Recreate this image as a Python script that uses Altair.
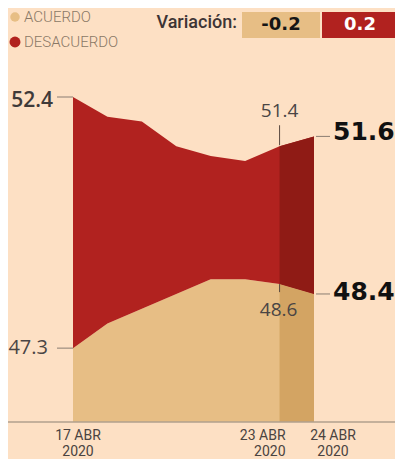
import altair as alt
import pandas as pd

# ---- data ----
days = [17, 18, 19, 20, 21, 22, 23, 24]
acuerdo = [47.3, 47.8, 48.1, 48.4, 48.7, 48.7, 48.6, 48.4]
desacuerdo = [52.4, 52.0, 51.9, 51.4, 51.2, 51.1, 51.4, 51.6]
tick_days = [17, 23, 24]
tick_labels = ["17 ABR\n2020", "23 ABR\n2020", "24 ABR\n2020"]
legend_labels = ["ACUERDO", "DESACUERDO"]
variation_title = "Variación:"
variation = [-0.2, 0.2]

BG = "#fde0c4"
TAN = "#e7be85"
RED = "#b1221f"
TAN_D = "#d3a463"
RED_D = "#8f1b15"
TICK = "#8a7d72"

W, H = 387, 451
BASE = 45.8

df = pd.DataFrame({"day": days, "acuerdo": acuerdo, "desacuerdo": desacuerdo})
ticks_df = pd.DataFrame({"day": tick_days, "label": tick_labels})
one = pd.DataFrame({"k": [0]})

xs = alt.Scale(domain=[17, 24], range=[65, 306])
ys = alt.Scale(domain=[BASE, 52.4], range=[414, 89])

X = alt.X("day:Q", scale=xs, axis=None)


def Y(f):
    return alt.Y(f, scale=ys, axis=None)


base = alt.Chart(df)

tan = base.mark_area(color=TAN).encode(x=X, y=Y("acuerdo:Q"), y2=alt.datum(BASE))
red = base.mark_area(color=RED).encode(x=X, y=Y("desacuerdo:Q"), y2="acuerdo:Q")
band = base.transform_filter("datum.day >= 23")
tan_d = band.mark_area(color=TAN_D).encode(x=X, y=Y("acuerdo:Q"), y2=alt.datum(BASE))
red_d = band.mark_area(color=RED_D).encode(x=X, y=Y("desacuerdo:Q"), y2="acuerdo:Q")

axis_line = alt.Chart(one).mark_rule(color="#b0a08e", strokeWidth=1.5).encode(
    x=alt.value(0), x2=alt.value(W), y=alt.value(414)
)

first = base.transform_filter("datum.day == 17")
mid = base.transform_filter("datum.day == 23")
last = base.transform_filter("datum.day == 24")

tick_l_a = first.mark_rule(color=TICK, x2Offset=-16).encode(x=X, x2="day:Q", y=Y("acuerdo:Q"))
tick_l_d = first.mark_rule(color=TICK, x2Offset=-16).encode(x=X, x2="day:Q", y=Y("desacuerdo:Q"))
tick_r_a = last.mark_rule(color=TICK, xOffset=2, x2Offset=16).encode(x=X, x2="day:Q", y=Y("acuerdo:Q"))
tick_r_d = last.mark_rule(color=TICK, xOffset=2, x2Offset=16).encode(x=X, x2="day:Q", y=Y("desacuerdo:Q"))
tick_m_d = mid.mark_rule(color="#5a4a40", yOffset=-1, y2Offset=-21).encode(x=X, y=Y("desacuerdo:Q"), y2="desacuerdo:Q")
tick_m_a = mid.mark_rule(color="#5a4a40", yOffset=0, y2Offset=8).encode(x=X, y=Y("acuerdo:Q"), y2="acuerdo:Q")

lbl_l_d = first.mark_text(align="right", baseline="middle", dx=-20, dy=4, fontSize=21,
                          font="Open Sans", fontWeight=600, color="#3f3a39").encode(
    x=X, y=Y("desacuerdo:Q"), text=alt.Text("desacuerdo:Q", format=".1f"))
lbl_l_a = first.mark_text(align="right", baseline="middle", dx=-25, dy=0, fontSize=20,
                          font="Open Sans", color="#4a4544").encode(
    x=X, y=Y("acuerdo:Q"), text=alt.Text("acuerdo:Q", format=".1f"))
lbl_m_d = mid.mark_text(align="center", baseline="middle", dx=0, dy=-35, fontSize=19,
                        font="Open Sans", color="#4a4544").encode(
    x=X, y=Y("desacuerdo:Q"), text=alt.Text("desacuerdo:Q", format=".1f"))
lbl_m_a = mid.mark_text(align="center", baseline="middle", dx=-1, dy=26, fontSize=19,
                        font="Open Sans", color="#4a4544").encode(
    x=X, y=Y("acuerdo:Q"), text=alt.Text("acuerdo:Q", format=".1f"))
lbl_r_d = last.mark_text(align="left", baseline="middle", dx=19, dy=-4, fontSize=25,
                         font="DejaVu Sans", fontWeight="bold", color="#111111").encode(
    x=X, y=Y("desacuerdo:Q"), text=alt.Text("desacuerdo:Q", format=".1f"))
lbl_r_a = last.mark_text(align="left", baseline="middle", dx=19, dy=-2, fontSize=25,
                         font="DejaVu Sans", fontWeight="bold", color="#111111").encode(
    x=X, y=Y("acuerdo:Q"), text=alt.Text("acuerdo:Q", format=".1f"))

tk = alt.Chart(ticks_df)
date_style = dict(baseline="top", lineBreak="\n", lineHeight=16, fontSize=14,
                  font="Roboto", color="#4a4340")
DY = 421
d17 = tk.transform_filter("datum.day == 17").mark_text(align="center", dx=5, **date_style).encode(
    x=X, y=alt.value(DY), text="label:N")
d23 = tk.transform_filter("datum.day == 23").mark_text(align="right", dx=6, **date_style).encode(
    x=X, y=alt.value(DY), text="label:N")
d24 = tk.transform_filter("datum.day == 24").mark_text(align="center", dx=19, **date_style).encode(
    x=X, y=alt.value(DY), text="label:N")

o = alt.Chart(one)
leg_c1 = o.mark_circle(color=TAN, opacity=1, size=90).encode(x=alt.value(7), y=alt.value(9))
leg_c2 = o.mark_circle(color=RED, opacity=1, size=120).encode(x=alt.value(7), y=alt.value(34))
leg_style = dict(align="left", baseline="middle", fontSize=15, font="Roboto", fontWeight=300,
                 color="#8a7866")
leg_t1 = o.mark_text(text=legend_labels[0], **leg_style).encode(x=alt.value(16), y=alt.value(9))
leg_t2 = o.mark_text(text=legend_labels[1], **leg_style).encode(x=alt.value(16), y=alt.value(34))

var_t = o.mark_text(align="right", baseline="middle", fontSize=18, font="Roboto", fontWeight=500,
                    color="#3d3535", text=variation_title).encode(x=alt.value(229), y=alt.value(15))
box1 = o.mark_rect(color=TAN).encode(x=alt.value(234), x2=alt.value(312), y=alt.value(4), y2=alt.value(30))
box2 = o.mark_rect(color=RED).encode(x=alt.value(314), x2=alt.value(390), y=alt.value(4), y2=alt.value(30))
box1_t = o.mark_text(align="center", baseline="middle", fontSize=18, font="DejaVu Sans", fontWeight="bold",
                     color="#151515", text=f"{variation[0]:.1f}").encode(x=alt.value(273), y=alt.value(17))
box2_t = o.mark_text(align="center", baseline="middle", fontSize=18, font="DejaVu Sans", fontWeight="bold",
                     color="#ffffff", text=f"{variation[1]:.1f}").encode(x=alt.value(352), y=alt.value(17))

chart = alt.layer(
    tan, red, tan_d, red_d, axis_line,
    tick_l_a, tick_l_d, tick_r_a, tick_r_d, tick_m_d, tick_m_a,
    lbl_l_d, lbl_l_a, lbl_m_d, lbl_m_a, lbl_r_d, lbl_r_a,
    d17, d23, d24,
    leg_c1, leg_c2, leg_t1, leg_t2, var_t, box1, box2, box1_t, box2_t,
).properties(
    width=W, height=H, background=BG, padding=0,
    autosize=alt.AutoSizeParams(type="none"),
).configure_view(stroke=None)

chart.save("out.html", embed_options={"renderer": "svg", "actions": False})
